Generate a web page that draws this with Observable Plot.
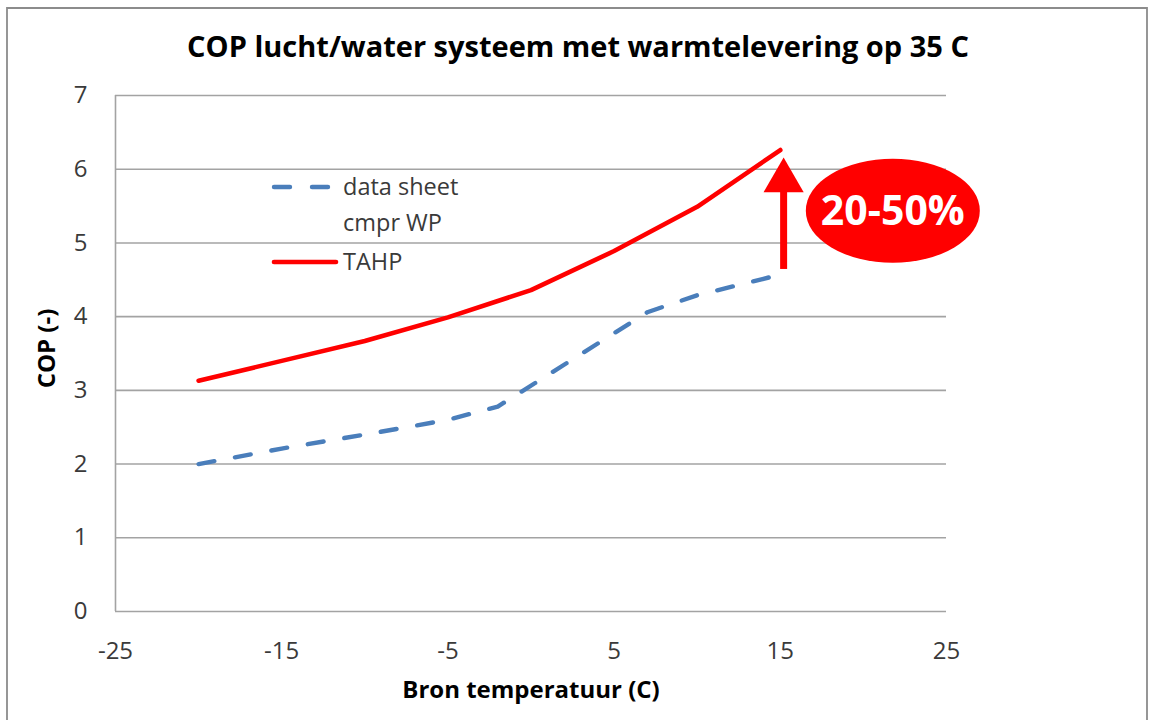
<!DOCTYPE html>
<html>
<head>
<meta charset="utf-8">
<script src="https://cdn.jsdelivr.net/npm/d3@7"></script>
<script src="https://cdn.jsdelivr.net/npm/@observablehq/plot@0.6"></script>
<style>
  html, body { margin: 0; padding: 0; background: #ffffff; }
  #chart svg { display: block; }
</style>
</head>
<body>
<div id="chart"></div>
<script>
// ---- data ----
const titleText = "COP lucht/water systeem met warmtelevering op 35 C";
const xLabel = "Bron temperatuur (C)";
const yLabel = "COP (-)";
const xTicks = [-25, -15, -5, 5, 15, 25];
const yTicks = [0, 1, 2, 3, 4, 5, 6, 7];

const seriesNames = ["data sheet", "cmpr WP", "TAHP"];

const tempSheet = [-20, -15, -10, -5, -2, 7, 10, 15];
const copSheet  = [2.00, 2.21, 2.40, 2.60, 2.78, 4.06, 4.29, 4.57];

const tempTAHP = [-20, -15, -10, -5, 0, 5, 10, 15];
const copTAHP  = [3.13, 3.40, 3.67, 3.99, 4.36, 4.89, 5.49, 6.26];

const gainLabel = "20-50%";
const arrowX = 15.2;
const arrowFrom = 4.64;
const arrowHead = 5.843;
const bubbleX = 21.8;
const bubbleY = 5.43;

// ---- tables ----
const sheetData = tempSheet.map((t, i) => ({t, cop: copSheet[i]}));
const tahpData = tempTAHP.map((t, i) => ({t, cop: copTAHP[i]}));

const RED = "#ff0000";
const BLUE = "#4a7ebb";
const GRID = "#a3a3a3";

const chart = Plot.plot({
  width: 1153,
  height: 720,
  marginLeft: 115,
  marginRight: 207,
  marginTop: 95,
  marginBottom: 109,
  x: {domain: [-25, 25], label: null},
  y: {domain: [0, 7], label: null},
  style: {fontFamily: "'Open Sans', sans-serif", color: "#3a3a3a", background: "#ffffff", overflow: "visible"},
  marks: [
    Plot.gridY(yTicks, {stroke: GRID, strokeOpacity: 1, strokeWidth: 1.6}),
    Plot.ruleX([-25], {stroke: GRID, strokeWidth: 1.6}),
    Plot.axisX(xTicks, {tickSize: 0, tickPadding: 30, fontSize: 24, label: null, tickFormat: d => String(d)}),
    Plot.axisY(yTicks, {tickSize: 0, tickPadding: 28, fontSize: 24, label: null, tickFormat: d => String(d)}),
    Plot.line(sheetData, {x: "t", y: "cop", stroke: BLUE, strokeWidth: 4.4, strokeDasharray: "16,21", strokeLinecap: "round"}),
    Plot.line(tahpData, {x: "t", y: "cop", stroke: RED, strokeWidth: 4.6, strokeLinecap: "round"}),
    Plot.ruleX([arrowX], {y1: arrowFrom, y2: arrowHead - 0.1, stroke: RED, strokeWidth: 7}),
    Plot.dot([{x: arrowX, y: arrowHead}], {x: "x", y: "y", symbol: "triangle", r: 14.9, fill: RED, stroke: "none"}),
    Plot.text([titleText], {frameAnchor: "top", lineAnchor: "middle", textAnchor: "middle", dx: 47, dy: -48, fontSize: 29, fontWeight: "bold", fill: "#000000"}),
    Plot.text([xLabel], {frameAnchor: "bottom", lineAnchor: "middle", textAnchor: "middle", dy: 79, fontSize: 24, fontWeight: "bold", fill: "#000000"}),
    Plot.text([yLabel], {frameAnchor: "left", lineAnchor: "middle", textAnchor: "middle", dx: -68, dy: -5, rotate: -90, fontSize: 24, fontWeight: "bold", fill: "#000000"})
  ]
});

document.getElementById("chart").appendChild(chart);

const svg = d3.select(chart);
const sx = chart.scale("x");
const sy = chart.scale("y");

// outer border
svg.append("path")
  .attr("d", "M7,720V8H1147V720")
  .attr("fill", "none")
  .attr("stroke", "#8c8c8c")
  .attr("stroke-width", 1.8);

// bubble
const bx = sx.apply(bubbleX), by = sy.apply(bubbleY);
svg.append("ellipse")
  .attr("cx", bx).attr("cy", by)
  .attr("rx", 87).attr("ry", 52)
  .attr("fill", RED);
svg.append("text")
  .attr("x", bx).attr("y", by)
  .attr("dy", "0.36em")
  .attr("text-anchor", "middle")
  .attr("fill", "#ffffff")
  .attr("font-family", "'Open Sans', sans-serif")
  .attr("font-weight", "bold")
  .attr("font-size", 41)
  .text(gainLabel);

// legend
const lg = svg.append("g")
  .attr("font-family", "'Open Sans', sans-serif")
  .attr("font-size", 23.5)
  .attr("fill", "#3a3a3a")
  .attr("text-anchor", "start");
lg.append("line").attr("x1", 274).attr("x2", 330).attr("y1", 187).attr("y2", 187)
  .attr("stroke", BLUE).attr("stroke-width", 4.4).attr("stroke-dasharray", "16,22").attr("stroke-linecap", "round");
lg.append("text").attr("x", 343).attr("y", 187).attr("dy", "0.35em").text(seriesNames[0]);
lg.append("text").attr("x", 343).attr("y", 223).attr("dy", "0.35em").text(seriesNames[1]);
lg.append("line").attr("x1", 274).attr("x2", 336).attr("y1", 262).attr("y2", 262)
  .attr("stroke", RED).attr("stroke-width", 4.6).attr("stroke-linecap", "round");
lg.append("text").attr("x", 343).attr("y", 262).attr("dy", "0.35em").text(seriesNames[2]);
</script>
</body>
</html>
